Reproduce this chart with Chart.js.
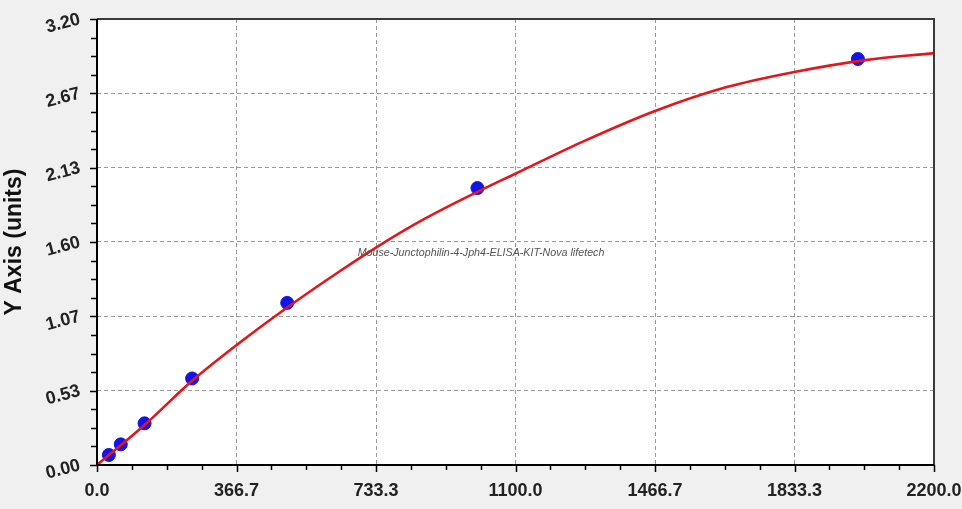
<!DOCTYPE html>
<html>
<head>
<meta charset="utf-8">
<script src="https://cdn.jsdelivr.net/npm/chart.js@4.4.0/dist/chart.umd.min.js"></script>
<style>
  html, body { margin: 0; padding: 0; background: #f0f0f0; }
</style>
</head>
<body>
<canvas id="chart" width="962" height="509"></canvas>
<script>
// standards (concentration) and measured OD
const standards = [31.25, 62.5, 125, 250, 500, 1000, 2000];
const measured = [0.072, 0.148, 0.299, 0.621, 1.163, 1.987, 2.913];

// fitted curve
const curveX = [0, 125, 250, 366.7, 500, 638, 733.3, 857, 1000, 1100, 1277, 1466.7, 1653, 1833.3, 2020, 2200];
const curveY = [0, 0.287, 0.604, 0.86, 1.13, 1.39, 1.56, 1.76, 1.96, 2.09, 2.32, 2.54, 2.71, 2.82, 2.905, 2.955];

// axis ticks
const xTickLabels = ['0.0', '366.7', '733.3', '1100.0', '1466.7', '1833.3', '2200.0'];
const yTickLabels = ['0.00', '0.53', '1.07', '1.60', '2.13', '2.67', '3.20'];
const xRange = [0, 2200];
const yRange = [0, 3.2];

const watermark = 'Mouse-Junctophilin-4-Jph4-ELISA-KIT-Nova lifetech';

const tickFont = { family: '"Liberation Sans", Arial, sans-serif', size: 18, weight: 'bold' };

function evenTicks(labels, range) {
    return labels.map((_, i) => ({ value: range[0] + i * (range[1] - range[0]) / (labels.length - 1) }));
}

/**
 * Background, frame, minor ticks, watermark
 */
const decorPlugin = {
    id: 'decor',
    beforeDraw(chart) {
        const { ctx, chartArea: a } = chart;
        ctx.save();
        ctx.fillStyle = '#f0f0f0';
        ctx.fillRect(0, 0, chart.width, chart.height);
        ctx.fillStyle = '#ffffff';
        ctx.fillRect(a.left, a.top, a.right - a.left, a.bottom - a.top);
        ctx.restore();
    },
    afterDatasetsDraw(chart) {
        const { ctx, chartArea: a } = chart;
        const xs = chart.scales.x, ys = chart.scales.y;
        ctx.save();

        // watermark
        ctx.font = 'italic 10.7px "Liberation Sans", Arial, sans-serif';
        ctx.fillStyle = '#555555';
        ctx.textAlign = 'center';
        ctx.textBaseline = 'middle';
        ctx.fillText(watermark, 481, 253);

        // tick marks (major + 3 minor between)
        ctx.strokeStyle = '#000';
        ctx.lineWidth = 1.5;
        const xStep = (xRange[1] - xRange[0]) / (xTickLabels.length - 1);
        for (let i = 0; i <= (xTickLabels.length - 1) * 4; i++) {
            const px = Math.round(xs.getPixelForValue(xRange[0] + i * xStep / 4)) + 0.5;
            const len = i % 4 === 0 ? 7 : 5;
            ctx.beginPath();
            ctx.moveTo(px, a.bottom);
            ctx.lineTo(px, a.bottom + len);
            ctx.stroke();
        }
        const yStep = (yRange[1] - yRange[0]) / (yTickLabels.length - 1);
        for (let i = 0; i <= (yTickLabels.length - 1) * 4; i++) {
            const py = Math.round(ys.getPixelForValue(yRange[0] + i * yStep / 4)) + 0.5;
            const len = i % 4 === 0 ? 7 : 6;
            ctx.beginPath();
            ctx.moveTo(a.left, py);
            ctx.lineTo(a.left - len, py);
            ctx.stroke();
        }

        // frame
        ctx.lineWidth = 2;
        ctx.strokeStyle = '#3a3a3a';
        ctx.beginPath();
        ctx.moveTo(a.left, a.top);
        ctx.lineTo(a.right, a.top);
        ctx.lineTo(a.right, a.bottom);
        ctx.stroke();
        ctx.strokeStyle = '#000';
        ctx.beginPath();
        ctx.moveTo(a.left, a.top);
        ctx.lineTo(a.left, a.bottom);
        ctx.lineTo(a.right, a.bottom);
        ctx.stroke();
        ctx.restore();
    }
};

const ctx = document.getElementById('chart').getContext('2d');
new Chart(ctx, {
    type: 'scatter',
    data: {
        datasets: [
            {
                type: 'line',
                label: 'Fit',
                data: curveX.map((x, i) => ({ x, y: curveY[i] })),
                borderColor: '#e3161b',
                borderWidth: 2.6,
                pointRadius: 0,
                cubicInterpolationMode: 'monotone',
                fill: false,
                order: 0
            },
            {
                label: 'Standards',
                data: standards.map((x, i) => ({ x, y: measured[i] })),
                backgroundColor: '#1414e6',
                borderColor: '#1414e6',
                pointRadius: 6.5,
                pointHoverRadius: 6.5,
                order: 1
            }
        ]
    },
    options: {
        responsive: false,
        animation: false,
        devicePixelRatio: 1,
        layout: { padding: { left: 0, right: 28, top: 19, bottom: 0 } },
        plugins: {
            legend: { display: false },
            tooltip: { enabled: false }
        },
        scales: {
            x: {
                type: 'linear',
                min: xRange[0],
                max: xRange[1],
                afterBuildTicks: s => { s.ticks = evenTicks(xTickLabels, xRange); },
                afterFit: s => { s.height = 44; s.paddingLeft = 0; s.paddingRight = 0; },
                ticks: {
                    callback: (v, i) => xTickLabels[i],
                    font: tickFont,
                    color: '#222',
                    padding: 15,
                    maxRotation: 0,
                    autoSkip: false
                },
                grid: { color: '#9a9a9a', lineWidth: 1, drawTicks: false },
                border: { display: false, dash: [4, 3] }
            },
            y: {
                type: 'linear',
                min: yRange[0],
                max: yRange[1],
                afterBuildTicks: s => { s.ticks = evenTicks(yTickLabels, yRange); },
                afterFit: s => { s.width = 97; s.paddingTop = 0; s.paddingBottom = 0; },
                ticks: {
                    callback: (v, i) => yTickLabels[i],
                    font: tickFont,
                    color: '#222',
                    padding: 17,
                    minRotation: 15,
                    maxRotation: 15,
                    autoSkip: false
                },
                grid: { color: '#9a9a9a', lineWidth: 1, drawTicks: false },
                border: { display: false, dash: [4, 3] },
                title: {
                    display: true,
                    text: 'Y Axis (units)',
                    font: { family: '"Liberation Sans", Arial, sans-serif', size: 23, weight: 'bold' },
                    color: '#111',
                    padding: { top: 1, bottom: 0 }
                }
            }
        }
    },
    plugins: [decorPlugin]
});
</script>
</body>
</html>
